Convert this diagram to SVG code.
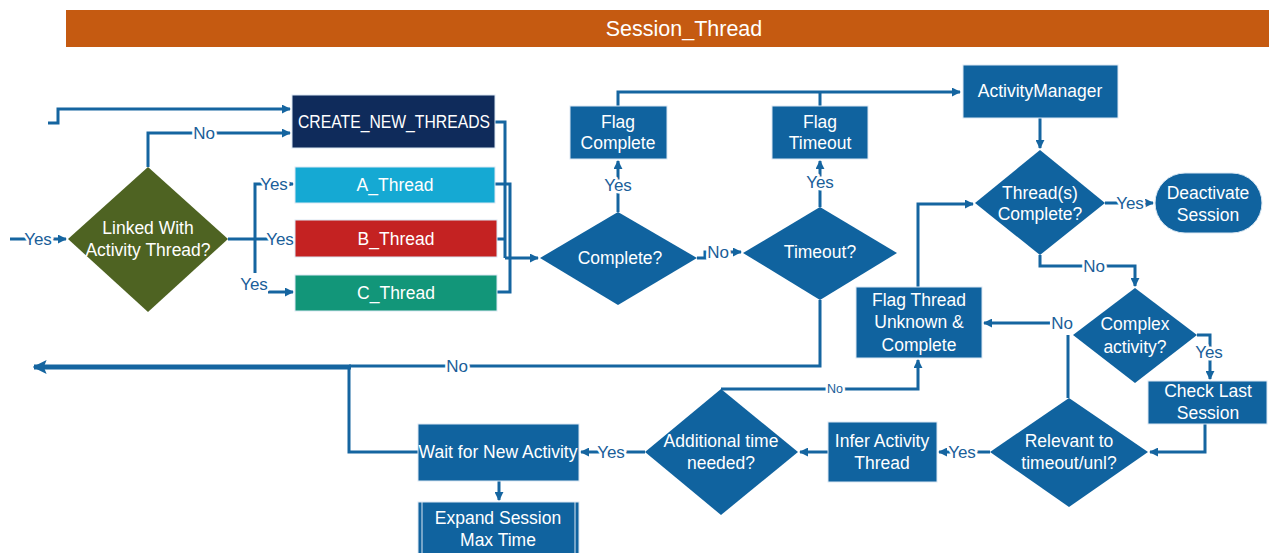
<svg xmlns="http://www.w3.org/2000/svg" width="1269" height="553" viewBox="0 0 1269 553">
  <style>
    .node { stroke: #dbe8f3; stroke-width: 1; }
    .blue { fill: #10639f; }
    .txt { font-family: "Liberation Sans", Arial, sans-serif; font-size: 17.5px; fill: #ffffff; text-anchor: middle; dominant-baseline: central; }
    .title { font-family: "Liberation Sans", Arial, sans-serif; font-size: 21.5px; fill: #ffffff; text-anchor: middle; dominant-baseline: central; }
    .wire { fill: none; stroke: #1565a0; stroke-width: 3; }
    .thick { fill: none; stroke: #1565a0; stroke-width: 5; }
    .lbl { font-family: "Liberation Sans", Arial, sans-serif; font-size: 17px; fill: #1a5e99; text-anchor: middle; dominant-baseline: central; stroke: #ffffff; stroke-width: 5; paint-order: stroke; stroke-linejoin: round; }
    .lbl-sm { font-size: 12.5px; }
  </style>
  <defs>
    <marker id="arrow" viewBox="0 0 10 10" refX="9" refY="5" markerWidth="9" markerHeight="9" markerUnits="userSpaceOnUse" orient="auto">
      <path d="M0,0 L10,5 L0,10 Z" fill="#1565a0"/>
    </marker>
    <marker id="arrow-lg" viewBox="0 0 10 10" refX="9" refY="5" markerWidth="14" markerHeight="14" markerUnits="userSpaceOnUse" orient="auto">
      <path d="M0,0 L10,5 L0,10 L2,5 Z" fill="#1565a0"/>
    </marker>
  </defs>

  <rect width="1269" height="553" fill="#ffffff"/>

  <!-- header bar -->
  <g id="header">
    <rect x="66" y="10" width="1203" height="37" fill="#c55a11"/>
    <text class="title" x="684" y="29">Session_Thread</text>
  </g>

  <!-- connectors -->
  <g id="connectors">
    <path class="wire" d="M48,123 H58 V109 H290" marker-end="url(#arrow)"/>
    <path class="wire" d="M148,167 V133 H290" marker-end="url(#arrow)"/>
    <path class="wire" d="M10,239 H66" marker-end="url(#arrow)"/>
    <path class="wire" d="M228,239 H293"/>
    <path class="wire" d="M255,273 V184 H293" marker-end="url(#arrow)"/>
    <path class="wire" d="M268,292 H293" marker-end="url(#arrow)"/>

    <path class="wire" d="M495,122 H505 V258"/>
    <path class="wire" d="M495,184 H510 V258"/>
    <path class="wire" d="M497,239 H505"/>
    <path class="wire" d="M497,292 H510 V258"/>
    <path class="wire" d="M505,258 H538" marker-end="url(#arrow)"/>

    <path class="wire" d="M618,212 V161" marker-end="url(#arrow)"/>
    <path class="wire" d="M697,258 H705 V252 H741" marker-end="url(#arrow)"/>
    <path class="wire" d="M820,207 V161" marker-end="url(#arrow)"/>
    <path class="wire" d="M618,106 V92 H960" marker-end="url(#arrow)"/>
    <path class="wire" d="M820,106 V92"/>

    <path class="wire" d="M1040,118 V148" marker-end="url(#arrow)"/>
    <path class="wire" d="M1105,203 H1153" marker-end="url(#arrow)"/>
    <path class="wire" d="M1040,255 V266 H1135 V286" marker-end="url(#arrow)"/>
    <path class="wire" d="M918,287 V204 H973" marker-end="url(#arrow)"/>

    <path class="wire" d="M1197,335 H1210 V379" marker-end="url(#arrow)"/>
    <path class="wire" d="M1205,424 V452 H1150" marker-end="url(#arrow)"/>
    <path class="wire" d="M1068,398 V335"/>
    <path class="wire" d="M1050,323 H984" marker-end="url(#arrow)"/>

    <path class="wire" d="M990,452 H939" marker-end="url(#arrow)"/>
    <path class="wire" d="M828,452 H800" marker-end="url(#arrow)"/>
    <path class="wire" d="M721,389 H918 V360" marker-end="url(#arrow)"/>
    <path class="wire" d="M645,452 H581" marker-end="url(#arrow)"/>
    <path class="wire" d="M499,481 V500" marker-end="url(#arrow)"/>

    <path class="wire" d="M418,452 H349 V367"/>
    <path class="wire" d="M820,300 V366 H349"/>
    <path class="thick" d="M351,367 H34" marker-end="url(#arrow-lg)"/>

    <!-- branch labels -->
    <text class="lbl" x="204" y="133">No</text>
    <text class="lbl" x="38" y="239">Yes</text>
    <text class="lbl" x="274" y="184">Yes</text>
    <text class="lbl" x="280" y="239">Yes</text>
    <text class="lbl" x="254" y="284">Yes</text>
    <text class="lbl" x="618" y="185">Yes</text>
    <text class="lbl" x="718" y="252">No</text>
    <text class="lbl" x="820" y="182">Yes</text>
    <text class="lbl" x="1130" y="203">Yes</text>
    <text class="lbl" x="1094" y="266">No</text>
    <text class="lbl" x="1209" y="352">Yes</text>
    <text class="lbl" x="1062" y="323">No</text>
    <text class="lbl" x="962" y="452">Yes</text>
    <text class="lbl lbl-sm" x="835" y="389">No</text>
    <text class="lbl" x="611" y="452">Yes</text>
    <text class="lbl" x="457" y="366">No</text>
  </g>

  <!-- nodes -->
  <g id="linked-with-activity-thread">
    <polygon points="148,167 228,239 148,312 68,239" fill="#4e6322"/>
    <text class="txt" x="148" y="228">Linked With</text>
    <text class="txt" x="148" y="250">Activity Thread?</text>
  </g>

  <g id="create-new-threads">
    <rect class="node" x="292" y="95" width="203" height="53" fill="#0f2b5b"/>
    <text class="txt" x="394" y="122" textLength="192" lengthAdjust="spacingAndGlyphs">CREATE_NEW_THREADS</text>
  </g>

  <g id="a-thread">
    <rect class="node" x="295" y="167" width="200" height="36" fill="#15a9d3"/>
    <text class="txt" x="395" y="185">A_Thread</text>
  </g>

  <g id="b-thread">
    <rect class="node" x="295" y="220" width="202" height="37" fill="#c42222"/>
    <text class="txt" x="396" y="239">B_Thread</text>
  </g>

  <g id="c-thread">
    <rect class="node" x="295" y="275" width="202" height="36" fill="#129679"/>
    <text class="txt" x="396" y="293">C_Thread</text>
  </g>

  <g id="complete-decision">
    <polygon class="blue" points="618,212 697,258 618,305 540,258"/>
    <text class="txt" x="620" y="258">Complete?</text>
  </g>

  <g id="flag-complete">
    <rect class="node blue" x="570" y="106" width="97" height="53"/>
    <text class="txt" x="618" y="122">Flag</text>
    <text class="txt" x="618" y="143">Complete</text>
  </g>

  <g id="timeout-decision">
    <polygon class="blue" points="820,207 897,253 820,300 743,253"/>
    <text class="txt" x="820" y="252">Timeout?</text>
  </g>

  <g id="flag-timeout">
    <rect class="node blue" x="772" y="106" width="96" height="53"/>
    <text class="txt" x="820" y="122">Flag</text>
    <text class="txt" x="820" y="143">Timeout</text>
  </g>

  <g id="activity-manager">
    <rect class="node blue" x="963" y="65" width="155" height="53"/>
    <text class="txt" x="1040" y="91">ActivityManager</text>
  </g>

  <g id="threads-complete-decision">
    <polygon class="blue" points="1040,150 1105,203 1040,255 975,203"/>
    <text class="txt" x="1040" y="193">Thread(s)</text>
    <text class="txt" x="1040" y="214">Complete?</text>
  </g>

  <g id="deactivate-session">
    <rect class="node blue" x="1155" y="173" width="107" height="60" rx="30" ry="30"/>
    <text class="txt" x="1208" y="193">Deactivate</text>
    <text class="txt" x="1208" y="215">Session</text>
  </g>

  <g id="flag-thread-unknown">
    <rect class="node blue" x="856" y="287" width="126" height="71"/>
    <text class="txt" x="919" y="300">Flag Thread</text>
    <text class="txt" x="919" y="322">Unknown &amp;</text>
    <text class="txt" x="919" y="345">Complete</text>
  </g>

  <g id="complex-activity-decision">
    <polygon class="blue" points="1135,288 1197,335 1135,383 1073,335"/>
    <text class="txt" x="1135" y="324">Complex</text>
    <text class="txt" x="1135" y="347">activity?</text>
  </g>

  <g id="check-last-session">
    <rect class="node blue" x="1148" y="381" width="119" height="43"/>
    <text class="txt" x="1208" y="391">Check Last</text>
    <text class="txt" x="1208" y="413">Session</text>
  </g>

  <g id="relevant-decision">
    <polygon class="blue" points="1069,398 1148,452 1069,507 990,452"/>
    <text class="txt" x="1069" y="441">Relevant to</text>
    <text class="txt" x="1069" y="463">timeout/unl?</text>
  </g>

  <g id="infer-activity-thread">
    <rect class="node blue" x="828" y="422" width="109" height="60"/>
    <text class="txt" x="882" y="441">Infer Activity</text>
    <text class="txt" x="882" y="463">Thread</text>
  </g>

  <g id="additional-time-decision">
    <polygon class="blue" points="721,389 798,452 721,515 645,452"/>
    <text class="txt" x="721" y="441">Additional time</text>
    <text class="txt" x="721" y="463">needed?</text>
  </g>

  <g id="wait-for-new-activity">
    <rect class="node blue" x="418" y="424" width="161" height="57"/>
    <text class="txt" x="498" y="452">Wait for New Activity</text>
  </g>

  <g id="expand-session-max-time">
    <rect class="node blue" x="418" y="502" width="161" height="60"/>
    <line x1="422" y1="502" x2="422" y2="553" stroke="#dbe8f3" stroke-width="1"/>
    <line x1="575" y1="502" x2="575" y2="553" stroke="#dbe8f3" stroke-width="1"/>
    <text class="txt" x="498" y="518">Expand Session</text>
    <text class="txt" x="498" y="540">Max Time</text>
  </g>
</svg>
